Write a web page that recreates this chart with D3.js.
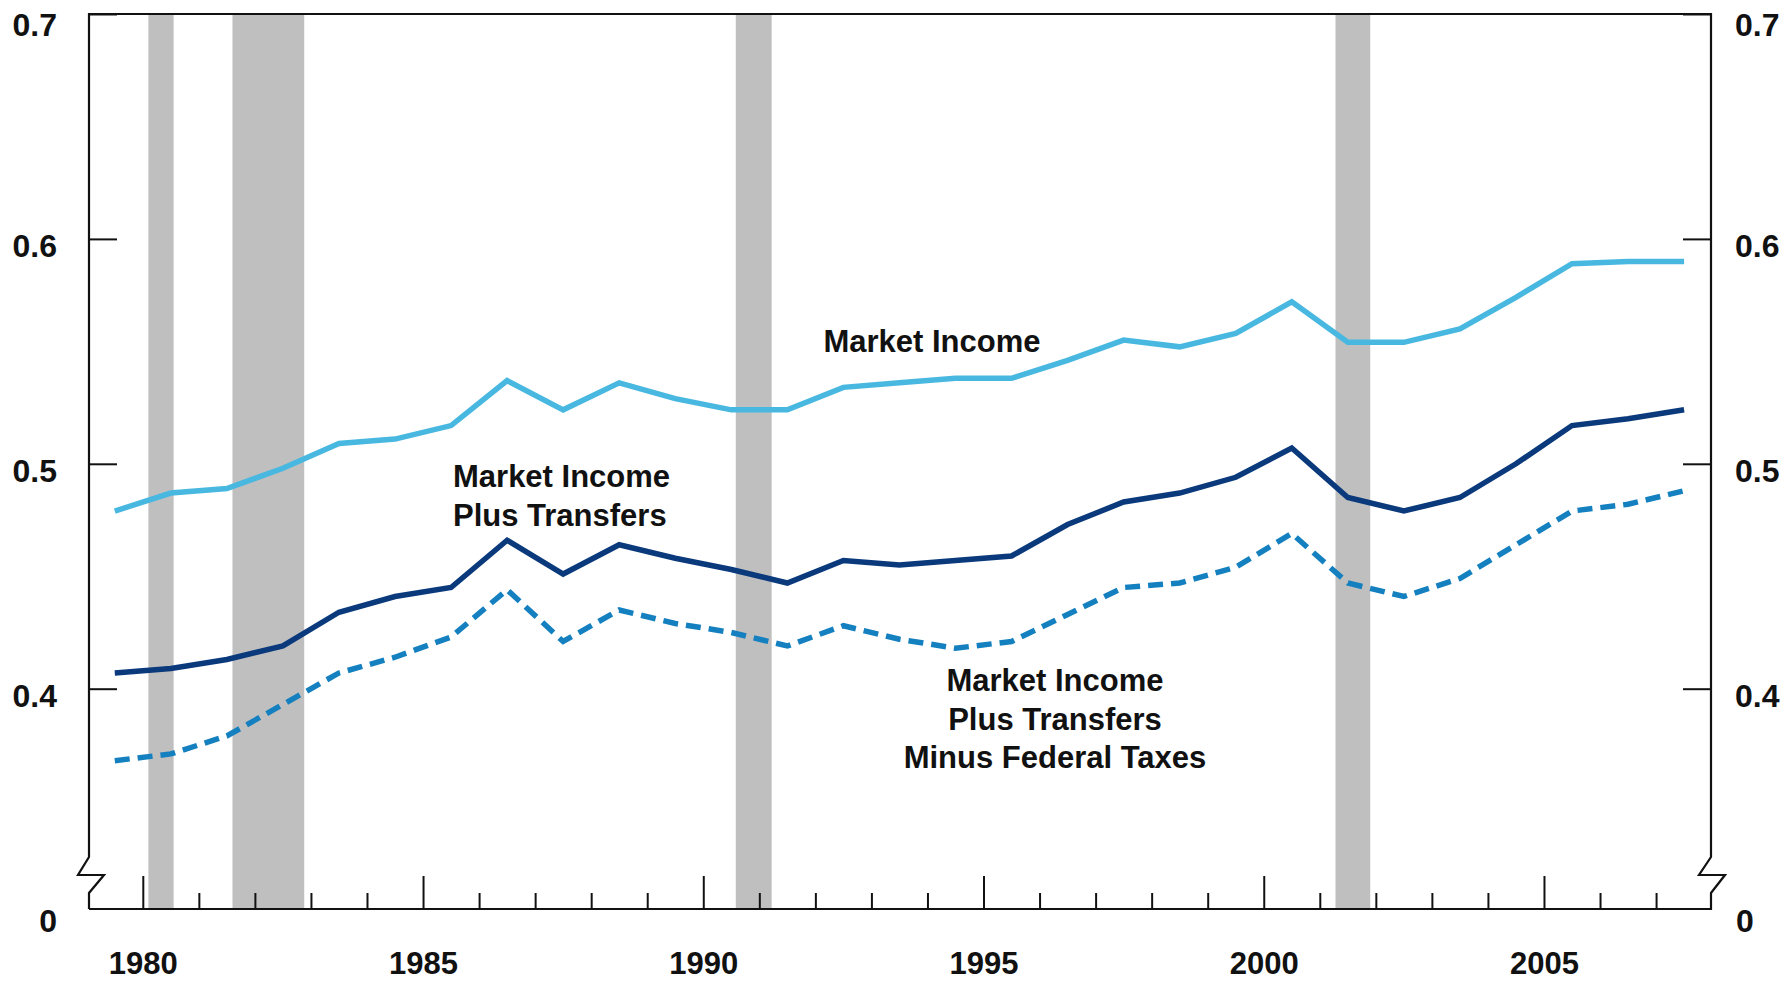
<!DOCTYPE html>
<html>
<head>
<meta charset="utf-8">
<script src="https://cdn.jsdelivr.net/npm/d3@7.9.0/dist/d3.min.js"></script>
<style>
  body { margin: 0; background: #fff; }
  svg text { font-family: "Liberation Sans", Arial, sans-serif; font-weight: bold; fill: #111; }
</style>
</head>
<body>
<svg id="chart" width="1787" height="982"></svg>
<script>
// Gini-style index values, one per year
const years = [1979, 1980, 1981, 1982, 1983, 1984, 1985, 1986, 1987, 1988, 1989, 1990, 1991, 1992,
  1993, 1994, 1995, 1996, 1997, 1998, 1999, 2000, 2001, 2002, 2003, 2004, 2005, 2006, 2007];

const marketIncome = [0.479, 0.487, 0.489, 0.498, 0.509, 0.511, 0.517, 0.537, 0.524, 0.536, 0.529, 0.524,
  0.524, 0.534, 0.536, 0.538, 0.538, 0.546, 0.555, 0.552, 0.558, 0.572, 0.554, 0.554, 0.560, 0.574,
  0.589, 0.590, 0.590];

const plusTransfers = [0.407, 0.409, 0.413, 0.419, 0.434, 0.441, 0.445, 0.466, 0.451, 0.464, 0.458, 0.453,
  0.447, 0.457, 0.455, 0.457, 0.459, 0.473, 0.483, 0.487, 0.494, 0.507, 0.485, 0.479, 0.485, 0.500,
  0.517, 0.520, 0.524];

const minusTaxes = [0.368, 0.371, 0.379, 0.393, 0.407, 0.414, 0.423, 0.444, 0.421, 0.435, 0.429, 0.425,
  0.419, 0.428, 0.422, 0.418, 0.421, 0.433, 0.445, 0.447, 0.454, 0.469, 0.447, 0.441, 0.449, 0.464,
  0.479, 0.482, 0.488];

// recession periods (start, end) in fractional years
const recessions = [[1980.1, 1980.55], [1981.6, 1982.88], [1990.58, 1991.22], [2001.28, 2001.9]];

const yTicks = [0.4, 0.5, 0.6, 0.7];
const xMajor = [1980, 1985, 1990, 1995, 2000, 2005];
const xMinor = [1981, 1982, 1983, 1984, 1986, 1987, 1988, 1989, 1991, 1992, 1993, 1994,
  1996, 1997, 1998, 1999, 2001, 2002, 2003, 2004, 2006, 2007];

const plotLeft = 89, plotRight = 1711, plotTop = 14, plotBottom = 909;

const svg = d3.select('#chart');

let x = d3.scaleLinear().domain([1979.04, 2007.98]).range([plotLeft, plotRight]);
let y = d3.scaleLinear().domain([0.4, 0.7]).range([688.7, plotTop]);

// recession bars
svg.append('g').selectAll('rect')
  .data(recessions)
  .join('rect')
  .attr('x', d => x(d[0]))
  .attr('width', d => x(d[1]) - x(d[0]))
  .attr('y', plotTop)
  .attr('height', plotBottom - plotTop)
  .attr('fill', '#bfbfbf');

// y axes, ticks point inward
let yLeft = svg.append('g')
  .attr('transform', `translate(${plotLeft},0)`)
  .call(d3.axisLeft(y).tickValues(yTicks).tickSize(-28).tickPadding(32).tickFormat(d3.format('.1f')));
let yRight = svg.append('g')
  .attr('transform', `translate(${plotRight},0)`)
  .call(d3.axisRight(y).tickValues(yTicks).tickSize(-28).tickPadding(24).tickFormat(d3.format('.1f')));

// x axis: long ticks every 5 years, short ticks in between
let xAxis = svg.append('g')
  .attr('transform', `translate(0,${plotBottom})`)
  .call(d3.axisBottom(x).tickValues(xMajor).tickSize(-33).tickPadding(43).tickFormat(d3.format('d')));
let xMinorAxis = svg.append('g')
  .attr('transform', `translate(0,${plotBottom})`)
  .call(d3.axisBottom(x).tickValues(xMinor).tickSize(-16).tickFormat(''));

[yLeft, yRight, xAxis, xMinorAxis].forEach(g => {
  g.select('.domain').remove();
  g.selectAll('line').attr('stroke', '#111').attr('stroke-width', 2);
  g.selectAll('text').attr('font-size', 32).attr('font-family', null).attr('fill', '#111');
});
xAxis.selectAll('text').attr('font-size', 31);
[yLeft, yRight].forEach(g => {
  g.selectAll('text').attr('dy', d => d === 0.7 ? '0.66em' : '0.55em');
});

// frame with the axis breaks near zero
let frame = d3.line();
svg.append('path')
  .attr('d', frame([[plotLeft, plotBottom], [plotLeft, 893], [plotLeft + 15, 875], [plotLeft - 11, 875],
    [plotLeft, 857], [plotLeft, plotTop], [plotRight, plotTop], [plotRight, 857], [plotRight - 12, 875],
    [plotRight + 14, 875], [plotRight, 893], [plotRight, plotBottom], [plotLeft, plotBottom]]))
  .attr('fill', 'none')
  .attr('stroke', '#111')
  .attr('stroke-width', 2.2)
  .attr('stroke-linejoin', 'miter');

svg.append('text').attr('x', 57).attr('y', 932).attr('text-anchor', 'end').attr('font-size', 32).text('0');
svg.append('text').attr('x', 1736).attr('y', 932).attr('font-size', 32).text('0');

// series lines, plotted at mid-year
let lineGen = d3.line()
  .x((d, i) => x(years[i] + 0.5))
  .y(d => y(d));

let series = [
  { values: marketIncome, color: '#48b8e0', dash: null },
  { values: plusTransfers, color: '#0a3a7c', dash: null },
  { values: minusTaxes, color: '#1580bf', dash: '15,8' }
];
series.forEach(s => {
  svg.append('path')
    .attr('d', lineGen(s.values))
    .attr('fill', 'none')
    .attr('stroke', s.color)
    .attr('stroke-width', 5.5)
    .attr('stroke-dasharray', s.dash);
});

// line labels
function label(lines, xPos, yPos, anchor) {
  let t = svg.append('text')
    .attr('x', xPos)
    .attr('y', yPos)
    .attr('text-anchor', anchor)
    .attr('font-size', 31);
  lines.forEach((l, i) => {
    t.append('tspan').attr('x', xPos).attr('dy', i === 0 ? 0 : 38.5).text(l);
  });
}
label(['Market Income'], 932, 352, 'middle');
label(['Market Income', 'Plus Transfers'], 453, 487, 'start');
label(['Market Income', 'Plus Transfers', 'Minus Federal Taxes'], 1055, 691, 'middle');
</script>
</body>
</html>
